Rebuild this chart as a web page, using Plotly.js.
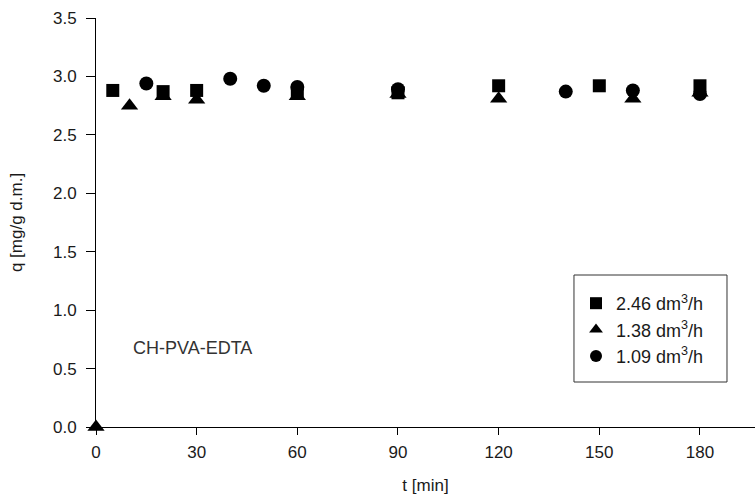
<!DOCTYPE html>
<html>
<head>
<meta charset="utf-8">
<script src="https://cdn.plot.ly/plotly-3.0.1.min.js"></script>
<style>
  html, body { margin: 0; padding: 0; background: #ffffff; }
  #chart { width: 755px; height: 495px; }
</style>
</head>
<body>
<div id="chart"></div>
<script>
// Series data
const seriesNames = ["2.46 dm<sup>3</sup>/h", "1.38 dm<sup>3</sup>/h", "1.09 dm<sup>3</sup>/h"];

const tSquare = [5, 20, 30, 60, 90, 120, 150, 180];
const qSquare = [2.88, 2.87, 2.88, 2.86, 2.86, 2.92, 2.92, 2.92];

const tTriangle = [0, 10, 20, 30, 60, 90, 120, 160, 180];
const qTriangle = [0, 2.75, 2.83, 2.80, 2.83, 2.85, 2.81, 2.81, 2.86];

const tCircle = [15, 40, 50, 60, 90, 140, 160, 180];
const qCircle = [2.94, 2.98, 2.92, 2.91, 2.89, 2.87, 2.88, 2.85];

const xTicks = [0, 30, 60, 90, 120, 150, 180];
const yTicks = [0, 0.5, 1.0, 1.5, 2.0, 2.5, 3.0, 3.5];
const yTickText = ["0.0", "0.5", "1.0", "1.5", "2.0", "2.5", "3.0", "3.5"];

const FONT = "Liberation Sans, Arial, sans-serif";
const INK = "#1a1a1a";

const traces = [
  { x: tSquare, y: qSquare, name: seriesNames[0], type: "scatter", mode: "markers",
    cliponaxis: false,
    marker: { symbol: "square", size: 13, color: "#000000" } },
  { x: tTriangle, y: qTriangle, name: seriesNames[1], type: "scatter", mode: "markers",
    cliponaxis: false,
    marker: { symbol: "triangle-up", size: 15, color: "#000000" } },
  { x: tCircle, y: qCircle, name: seriesNames[2], type: "scatter", mode: "markers",
    cliponaxis: false,
    marker: { symbol: "circle", size: 14, color: "#000000" } }
];

const layout = {
  width: 755, height: 495,
  margin: { l: 96, r: 0, t: 18, b: 68 },
  paper_bgcolor: "#ffffff",
  plot_bgcolor: "#ffffff",
  font: { family: FONT, size: 17, color: INK },
  showlegend: true,
  legend: {
    x: 0.7284, y: 0.3472, xanchor: "left", yanchor: "top",
    borderwidth: 0, bgcolor: "rgba(0,0,0,0)",
    font: { family: FONT, size: 18, color: INK },
    itemsizing: "constant"
  },
  shapes: [
    { type: "rect", xref: "paper", yref: "paper",
      x0: 0.7253, x1: 0.9575, y0: 0.1100, y1: 0.3716,
      line: { color: "#333333", width: 1 }, fillcolor: "rgba(0,0,0,0)", layer: "below" }
  ],
  xaxis: {
    range: [0, 196.4],
    tickmode: "array", tickvals: xTicks, ticktext: xTicks.map(String),
    ticks: "outside", ticklen: 7, tickwidth: 1, tickcolor: "#000000",
    ticklabelstandoff: 3,
    showline: true, linecolor: "#000000", linewidth: 1,
    showgrid: false, zeroline: false,
    tickfont: { family: FONT, size: 17, color: INK },
    title: { text: "t [min]", font: { family: FONT, size: 17, color: INK }, standoff: 18 }
  },
  yaxis: {
    range: [0, 3.5],
    tickmode: "array", tickvals: yTicks, ticktext: yTickText,
    ticks: "outside", ticklen: 9, tickwidth: 1, tickcolor: "#000000",
    ticklabelstandoff: 6,
    showline: true, linecolor: "#000000", linewidth: 1,
    showgrid: false, zeroline: false,
    tickfont: { family: FONT, size: 17, color: INK },
    title: { text: "q [mg/g d.m.]", font: { family: FONT, size: 17, color: INK }, standoff: 26 }
  },
  annotations: [
    { text: "CH-PVA-EDTA", xref: "x", yref: "y", x: 10.3, y: 0.676,
      xanchor: "left", yanchor: "middle", showarrow: false,
      font: { family: FONT, size: 18, color: "#333333" } }
  ]
};

Plotly.newPlot("chart", traces, layout, { displayModeBar: false, staticPlot: true });
</script>
</body>
</html>
